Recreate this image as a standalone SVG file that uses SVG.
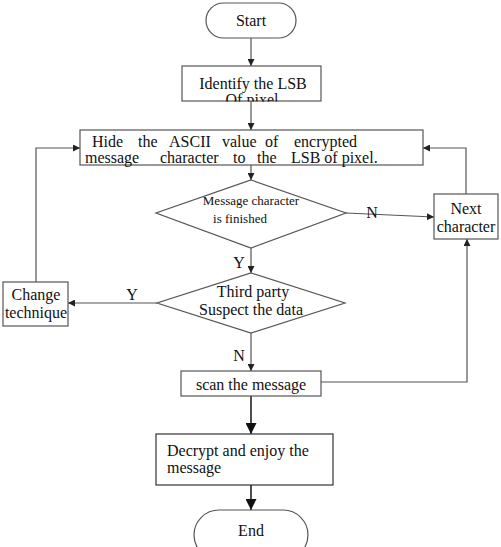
<svg xmlns="http://www.w3.org/2000/svg" width="501" height="547" viewBox="0 0 501 547">
<defs>
<marker id="ah" viewBox="0 0 10 10" refX="10" refY="5" markerWidth="7" markerHeight="7" markerUnits="userSpaceOnUse" orient="auto"><path d="M0,0 L10,5 L0,10 z" fill="#222"/></marker>
<marker id="ahb" viewBox="0 0 10 10" refX="10" refY="5" markerWidth="11" markerHeight="11" markerUnits="userSpaceOnUse" orient="auto"><path d="M0,0 L10,5 L0,10 z" fill="#111"/></marker>
<clipPath id="idclip"><rect x="182" y="66" width="139" height="35.5"/></clipPath>
</defs>
<style>
.box{fill:#fff;stroke:#555;stroke-width:1.2}
.t{font-family:"Liberation Serif","Times New Roman",serif;font-size:16px;fill:#111}
.s{font-size:13px}
.c{stroke:#555;stroke-width:1.2;fill:none;marker-end:url(#ah)}
.cb{stroke:#222;stroke-width:1.6;fill:none;marker-end:url(#ahb)}
</style>
<rect width="501" height="547" fill="#fff"/>
<g id="connectors">
<path class="c" d="M251,38 V66"/>
<path class="c" d="M251,101 V130"/>
<path class="c" d="M251,165 V180"/>
<path class="c" d="M346,213 L434,217"/>
<path class="c" d="M466,194 V148 H423"/>
<path class="c" d="M251,248 V273"/>
<path class="c" d="M157,303 H68"/>
<path class="c" d="M36,282 V148 H80"/>
<path class="c" d="M251,333 V371"/>
<path class="c" d="M321,382 H467 V239"/>
<path class="cb" d="M251,396 V434"/>
<path class="cb" d="M251,485 V510"/>
<text class="t" x="372" y="218" text-anchor="middle">N</text>
<text class="t" x="239" y="268" text-anchor="middle">Y</text>
<text class="t" x="132" y="300" text-anchor="middle">Y</text>
<text class="t" x="239" y="361" text-anchor="middle">N</text>
</g>
<g id="start">
<rect class="box" x="206" y="3" width="90" height="35" rx="17.5"/>
<text class="t" x="251" y="26" text-anchor="middle">Start</text>
</g>
<g id="identify">
<rect class="box" x="182" y="66" width="139" height="35"/>
<text class="t" x="253" y="89" text-anchor="middle">Identify the LSB</text>
<text class="t" x="252" y="104.5" text-anchor="middle" clip-path="url(#idclip)">Of pixel</text>
</g>
<g id="hide">
<rect class="box" x="80" y="130" width="343" height="35"/>
<text class="t" y="147"><tspan x="92">Hide</tspan><tspan x="138">the</tspan><tspan x="169">ASCII</tspan><tspan x="222">value</tspan><tspan x="265">of</tspan><tspan x="294">encrypted</tspan></text>
<text class="t" y="163"><tspan x="85">message</tspan><tspan x="160">character</tspan><tspan x="233">to</tspan><tspan x="257">the</tspan><tspan x="291">LSB of pixel.</tspan></text>
</g>
<g id="finished">
<polygon class="box" points="251,180 346,213 251,248 156,213"/>
<text class="t s" x="251" y="205" text-anchor="middle">Message character</text>
<text class="t s" x="240" y="223" text-anchor="middle">is  finished</text>
</g>
<g id="next">
<rect class="box" x="434" y="194" width="64" height="45"/>
<text class="t" x="466" y="214" text-anchor="middle">Next</text>
<text class="t" x="466" y="232" text-anchor="middle">character</text>
</g>
<g id="suspect">
<polygon class="box" points="251,273 345,303 251,333 157,303"/>
<text class="t" x="253" y="297" text-anchor="middle">Third party</text>
<text class="t" x="251" y="315" text-anchor="middle">Suspect  the data</text>
</g>
<g id="change">
<rect class="box" x="3" y="282" width="65" height="44"/>
<text class="t" x="36" y="300" text-anchor="middle">Change</text>
<text class="t" x="36" y="318" text-anchor="middle">technique</text>
</g>
<g id="scan">
<rect class="box" x="181" y="371" width="140" height="25"/>
<text class="t" x="251" y="390" text-anchor="middle">scan the message</text>
</g>
<g id="decrypt">
<rect class="box" x="156" y="434" width="177" height="51" style="stroke:#333"/>
<text class="t" x="167" y="456">Decrypt and enjoy the</text>
<text class="t" x="167" y="473">message</text>
</g>
<g id="end">
<rect class="box" x="194" y="510" width="114" height="50" rx="25"/>
<text class="t" x="251" y="536" text-anchor="middle">End</text>
</g>
</svg>
